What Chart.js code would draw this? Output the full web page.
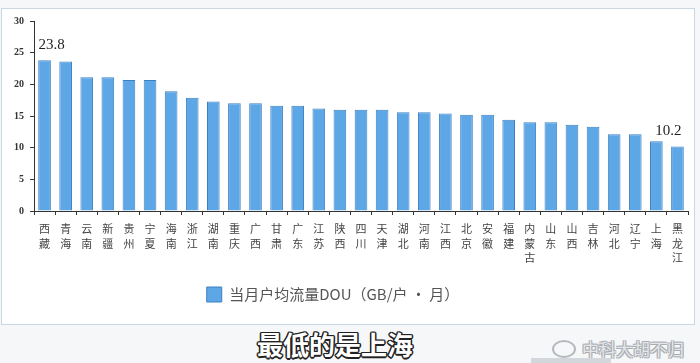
<!DOCTYPE html>
<html>
<head>
<meta charset="utf-8">
<script src="https://cdn.jsdelivr.net/npm/chart.js@4.4.0/dist/chart.umd.min.js"></script>
<style>
    body {
        margin: 0;
        width: 700px;
        height: 363px;
        background: #f6f7f9;
        position: relative;
        overflow: hidden;
        font-family: "Noto Sans CJK SC", sans-serif;
    }
    .m-frame {
        position: absolute;
        left: 1px;
        top: 8px;
        width: 694px;
        height: 317px;
        background: #fff;
        border: 1px solid #c9d7e2;
        box-sizing: border-box;
    }
    .m-subtitle {
        position: absolute;
        left: 257px;
        top: 325px;
        font-size: 26px;
        font-weight: 700;
        color: #fff;
        letter-spacing: 0px;
        text-shadow: -1px -1px 0 #222, 1px -1px 0 #222, -1px 1px 0 #222, 1px 1px 0 #222,
            0 -1.5px 0 #222, 0 1.5px 0 #222, -1.5px 0 0 #222, 1.5px 0 0 #222;
    }
    .m-mark {
        position: absolute;
        left: 552px;
        top: 336px;
        font-size: 17px;
        color: #e4e6e9;
        text-shadow: -1px -1px 0 #a9adb2, 1px -1px 0 #a9adb2, -1px 1px 0 #a9adb2, 1px 1px 0 #a9adb2;
    }
    .m-mark .logo {
        display: inline-block;
        width: 20px;
        height: 14px;
        border: 2px solid #b5b9be;
        border-radius: 50%;
        margin-right: 6px;
        vertical-align: -2px;
    }
    .m-bar {
        position: absolute;
        left: 531px;
        top: 358px;
        width: 80px;
        height: 5px;
        background: #d3d7dc;
    }
</style>
</head>
<body>
<div class="m-frame"><canvas id="myChart"></canvas></div>
<div class="m-subtitle">最低的是上海</div>
<div class="m-mark"><span class="logo"></span>中科大胡不归</div>
<div class="m-bar"></div>
<script>
// 各省当月户均流量 DOU
const provinces = [
    ['西', '藏'], ['青', '海'], ['云', '南'], ['新', '疆'], ['贵', '州'], ['宁', '夏'],
    ['海', '南'], ['浙', '江'], ['湖', '南'], ['重', '庆'], ['广', '西'], ['甘', '肃'],
    ['广', '东'], ['江', '苏'], ['陕', '西'], ['四', '川'], ['天', '津'], ['湖', '北'],
    ['河', '南'], ['江', '西'], ['北', '京'], ['安', '徽'], ['福', '建'], ['内', '蒙', '古'],
    ['山', '东'], ['山', '西'], ['吉', '林'], ['河', '北'], ['辽', '宁'], ['上', '海'],
    ['黑', '龙', '江']
];
const dou = [
    23.8, 23.6, 21.1, 21.1, 20.7, 20.7,
    18.9, 17.9, 17.3, 17.0, 17.0, 16.6,
    16.6, 16.2, 16.0, 16.0, 16.0, 15.6,
    15.6, 15.4, 15.2, 15.2, 14.4, 14.0,
    14.0, 13.6, 13.3, 12.1, 12.1, 11.0,
    10.2
];
const yTicks = [0, 5, 10, 15, 20, 25, 30];
const labeledBars = [0, 30];   // only the highest and lowest get a number
const seriesName = '当月户均流量DOU（GB/户 • 月）';

// draws the two value labels above the bars
const valueLabels = {
    id: 'valueLabels',
    afterDatasetsDraw(chart) {
        const ctx = chart.ctx;
        const meta = chart.getDatasetMeta(0);
        ctx.save();
        ctx.font = '15px "Liberation Serif", serif';
        ctx.fillStyle = '#1f1f1f';
        ctx.textAlign = 'center';
        ctx.textBaseline = 'bottom';
        labeledBars.forEach((i, k) => {
            const bar = meta.data[i];
            const dx = k === 0 ? 7 : -9;
            ctx.fillText(dou[i].toFixed(1), bar.x + dx, bar.y - 8);
        });
        ctx.restore();
    }
};

// legend sits a bit left of centre in the original
const shiftLegend = {
    id: 'shiftLegend',
    afterLayout(chart) {
        chart.legend.left -= 12;
        chart.legend.right -= 12;
    }
};

const ctx = document.getElementById('myChart').getContext('2d');
const myChart = new Chart(ctx, {
    type: 'bar',
    data: {
        labels: provinces,
        datasets: [{
            label: seriesName,
            data: dou,
            backgroundColor: '#5ea7e7',
            borderColor: '#3d80c2',
            borderWidth: 1,
            barPercentage: 0.6,
            categoryPercentage: 1
        }]
    },
    options: {
        responsive: true,
        maintainAspectRatio: false,
        animation: false,
        layout: {
            padding: { left: 0, top: 12, right: 6, bottom: 12 }
        },
        plugins: {
            tooltip: { enabled: false },
            legend: {
                position: 'bottom',
                labels: {
                    boxWidth: 15,
                    boxHeight: 15,
                    padding: 10,
                    color: '#555',
                    font: { family: '"Noto Sans CJK SC", sans-serif', size: 15 }
                }
            }
        },
        scales: {
            x: {
                grid: {
                    drawOnChartArea: false,
                    tickLength: 4,
                    color: '#333'
                },
                border: { color: '#333', width: 1 },
                ticks: {
                    autoSkip: false,
                    maxRotation: 0,
                    padding: 7,
                    color: '#444',
                    font: { family: '"Noto Sans CJK SC", sans-serif', size: 11, lineHeight: 1.3 }
                },
                afterFit(s) { s.height = 66; }
            },
            y: {
                min: 0,
                max: 30,
                afterBuildTicks(s) { s.ticks = yTicks.map(v => ({ value: v })); },
                grid: {
                    drawOnChartArea: false,
                    tickLength: 4,
                    color: '#333'
                },
                border: { color: '#333', width: 1 },
                ticks: {
                    padding: 6,
                    color: '#333',
                    font: { family: '"Liberation Serif", serif', size: 10, weight: 'bold' }
                },
                afterFit(s) { s.width = 32; }
            }
        }
    },
    plugins: [valueLabels, shiftLegend]
});
</script>
</body>
</html>
